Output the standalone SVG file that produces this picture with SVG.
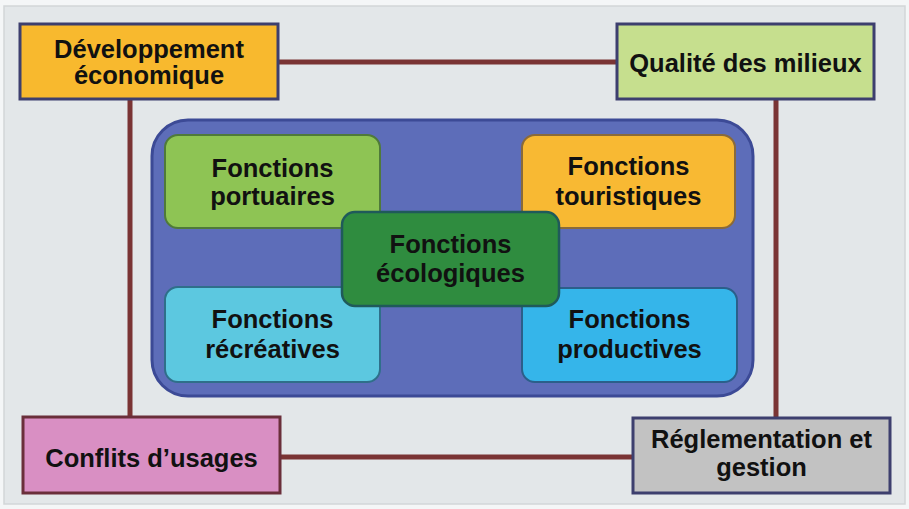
<svg xmlns="http://www.w3.org/2000/svg" width="909" height="509" viewBox="0 0 909 509">
<style>
text{font-family:"Liberation Sans",Arial,sans-serif;font-weight:bold;font-size:25.5px;fill:#111;text-anchor:middle}
.outer{stroke:#3d3f6e;stroke-width:3}
.inner{stroke-width:2}
.link{stroke:#7a3434;stroke-width:5;fill:none}
</style>
<rect x="0" y="0" width="909" height="509" fill="#f4f6f7"/>
<rect x="4" y="6" width="901" height="498" fill="#e3e7e9" stroke="#d2d6d8" stroke-width="1.5"/>
<g id="connectors">
<line class="link" x1="278" y1="62" x2="617" y2="62"/>
<line class="link" x1="130" y1="99" x2="130" y2="417"/>
<line class="link" x1="776" y1="99" x2="776" y2="418"/>
<line class="link" x1="280" y1="457" x2="633" y2="457"/>
</g>
<g id="developpement">
<rect class="outer" x="20" y="24" width="258" height="75" fill="#f8b92e"/>
<text x="149" y="58">Développement</text>
<text x="149" y="84">économique</text>
</g>
<g id="qualite">
<rect class="outer" x="617" y="24" width="257" height="75" fill="#c6df8e"/>
<text x="745.5" y="72">Qualité des milieux</text>
</g>
<g id="conflits">
<rect x="23" y="417" width="257" height="76" fill="#d98fc3" stroke="#6a2f3a" stroke-width="3"/>
<text x="151.5" y="467">Conflits d’usages</text>
</g>
<g id="reglementation">
<rect class="outer" x="633" y="418" width="257" height="75" fill="#c2c2c2"/>
<text x="761.5" y="448">Réglementation et</text>
<text x="761.5" y="476">gestion</text>
</g>
<g id="fonctions">
<rect x="152" y="120" width="601" height="276" rx="36" fill="#5d6db9" stroke="#3c4a96" stroke-width="3"/>
</g>
<g id="portuaires">
<rect class="inner" x="165" y="135" width="215" height="93" rx="13" fill="#8ec454" stroke="#4f7a3a"/>
<text x="272.5" y="177">Fonctions</text>
<text x="272.5" y="205">portuaires</text>
</g>
<g id="touristiques">
<rect class="inner" x="522" y="135" width="213" height="93" rx="13" fill="#f8b933" stroke="#8a6a3a"/>
<text x="628.5" y="175">Fonctions</text>
<text x="628.5" y="205">touristiques</text>
</g>
<g id="recreatives">
<rect class="inner" x="165" y="287" width="215" height="95" rx="13" fill="#5cc8e0" stroke="#2f6f8a"/>
<text x="272.5" y="328">Fonctions</text>
<text x="272.5" y="358">récréatives</text>
</g>
<g id="productives">
<rect class="inner" x="522" y="288" width="215" height="94" rx="13" fill="#35b5ea" stroke="#2b5f8a"/>
<text x="629.5" y="328">Fonctions</text>
<text x="629.5" y="358">productives</text>
</g>
<g id="ecologiques">
<rect x="342" y="212" width="217" height="94" rx="13" fill="#2f8c3f" stroke="#1f5a5a" stroke-width="2.5"/>
<text x="450.5" y="253">Fonctions</text>
<text x="450.5" y="282">écologiques</text>
</g>
</svg>
